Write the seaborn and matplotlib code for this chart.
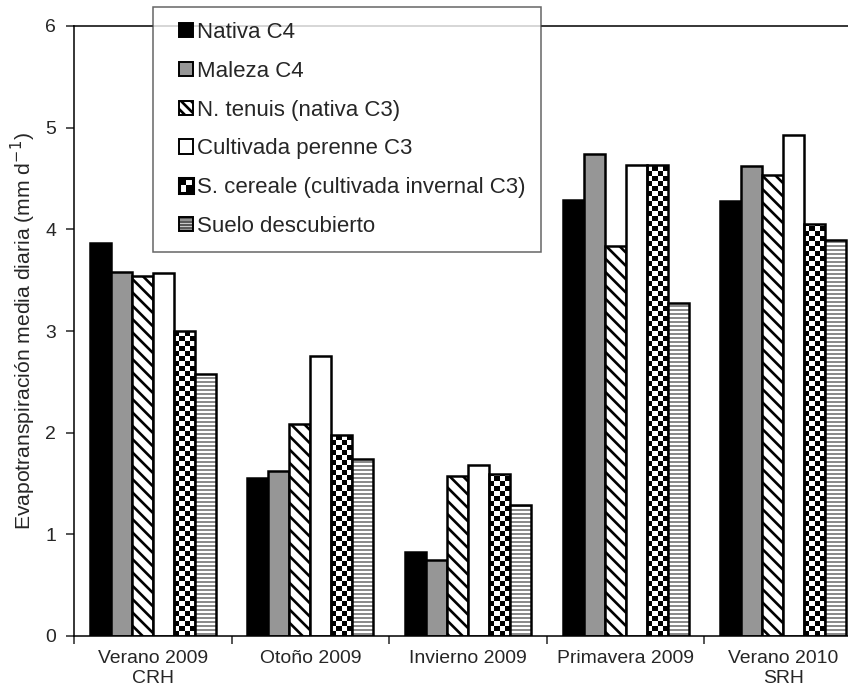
import numpy as np
import pandas as pd
import matplotlib
matplotlib.use("Agg")
import matplotlib.pyplot as plt
import seaborn as sns
from matplotlib.patches import Rectangle, Patch
from matplotlib.legend_handler import HandlerBase

seasons = ["Verano 2009\nCRH", "Otoño 2009", "Invierno 2009", "Primavera 2009", "Verano 2010\nSRH"]
types = ["Nativa C4", "Maleza C4", "N. tenuis (nativa C3)", "Cultivada perenne C3",
         "S. cereale (cultivada invernal C3)", "Suelo descubierto"]
nativa_c4 = [3.87, 1.55, 0.83, 4.29, 4.28]
maleza_c4 = [3.58, 1.62, 0.75, 4.74, 4.62]
n_tenuis = [3.54, 2.09, 1.57, 3.84, 4.53]
cult_perenne = [3.57, 2.75, 1.68, 4.63, 4.93]
s_cereale = [3.00, 1.98, 1.59, 4.63, 4.05]
suelo = [2.58, 1.74, 1.29, 3.28, 3.90]
yticks = [0, 1, 2, 3, 4, 5, 6]

series = [nativa_c4, maleza_c4, n_tenuis, cult_perenne, s_cereale, suelo]
df = pd.DataFrame({
    "season": [s for _ in types for s in seasons],
    "type": [t for t in types for _ in seasons],
    "value": [v for vals in series for v in vals],
})

DPI = 120
def P(v):  # size expressed as if at 100 dpi
    return v * 100 / DPI

sns.set_style("white")
plt.rcParams['font.family'] = ['Liberation Sans', 'DejaVu Sans']
plt.rcParams['hatch.linewidth'] = P(1.9)

fig = plt.figure(figsize=(848 / DPI, 700 / DPI), dpi=DPI)
ax = fig.add_axes([74/848, 1-636/700, 788/848, 610/700])

palette = ["black", "#969696", "white", "white", "white", "white"]
sns.barplot(data=df, x="season", y="value", hue="type", order=seasons, hue_order=types,
            palette=palette, edgecolor="black", linewidth=P(1.8), width=0.8, gap=0,
            legend=False, ax=ax, saturation=1)

HGRAY = (0.35, 0.35, 0.35, 1)
hatches = [None, None, "\\\\\\", None, None, "-----"]
for cont, h in zip(ax.containers, hatches):
    for p in cont:
        if h:
            p.set_hatch(h)
            if h.startswith("-"):
                p._hatch_color = HGRAY
                if hasattr(p, "set_hatch_linewidth"):
                    p.set_hatch_linewidth(P(1.0))

ax.set_xlim(-0.5, 4.5)
ax.set_ylim(0, 6)
ax.set_yticks(yticks)

# checkerboard fill for S. cereale
fig.canvas.draw()
px_per_x = ax.transData.transform((1, 0))[0] - ax.transData.transform((0, 0))[0]
px_per_y = ax.transData.transform((0, 1))[1] - ax.transData.transform((0, 0))[1]
cell = 5.0
for p in ax.containers[4]:
    x0, w, h = p.get_x(), p.get_width(), p.get_height()
    nc = max(1, int(round(w * px_per_x / cell)))
    nr = int(np.ceil(h * px_per_y / cell))
    arr = (np.add.outer(np.arange(nr), np.arange(nc)) % 2).astype(float)
    im = ax.imshow(arr, extent=(x0, x0 + w, 0, nr * cell / px_per_y), origin="lower",
                   cmap="gray", vmin=0, vmax=1, aspect="auto", interpolation="nearest",
                   zorder=p.get_zorder() - 0.05)
    im.set_clip_path(p)
    p.set_facecolor("none")
ax.set_xlim(-0.5, 4.5)
ax.set_ylim(0, 6)

for s in ax.spines.values():
    s.set_color("black")
    s.set_linewidth(P(1.1))

ax.tick_params(axis="y", which="major", direction="out", length=P(6), width=P(1.1),
               labelsize=P(14), pad=P(7), left=True)
ax.tick_params(axis="x", which="major", length=0, labelsize=P(14), pad=P(10))
for t in ax.get_xticklabels():
    t.set_linespacing(1.25)
ax.set_xticks(np.arange(-0.5, 5, 1), minor=True)
ax.tick_params(axis="x", which="minor", direction="out", length=P(6), width=P(1.1), bottom=True)
ax.set_xlabel("")
ax.set_ylabel("Evapotranspiración media diaria (mm d$^{-1}$)", fontsize=P(15.2))
ax.yaxis.set_label_coords(-36/788, 0.5)


class SquareHandler(HandlerBase):
    """Draws a square swatch at the right end of the handle box."""
    def __init__(self, kind="solid", **kw):
        super().__init__(**kw)
        self.kind = kind

    def create_artists(self, legend, orig_handle, xdescent, ydescent, width, height, fontsize, trans):
        s = height
        x0 = -xdescent + width - s
        y0 = -ydescent
        arts = []
        if self.kind == "checker":
            hs = s / 2
            for i in range(2):
                for j in range(2):
                    fc = "black" if (i + j) % 2 == 1 else "white"
                    arts.append(Rectangle((x0 + i * hs, y0 + j * hs), hs, hs,
                                          facecolor=fc, edgecolor="none", transform=trans))
            arts.append(Rectangle((x0, y0), s, s, facecolor="none",
                                  edgecolor="black", lw=P(2.2), transform=trans))
        else:
            r = Rectangle((x0, y0), s, s, facecolor=orig_handle.get_facecolor(),
                          edgecolor="black", lw=P(1.4), hatch=orig_handle.get_hatch(),
                          transform=trans)
            if getattr(orig_handle, "_hatch_color", None) is not None:
                r._hatch_color = orig_handle._hatch_color
            arts.append(r)
        return arts


handles = [
    Patch(facecolor="black", edgecolor="black"),
    Patch(facecolor="#969696", edgecolor="black"),
    Patch(facecolor="white", edgecolor="black", hatch="\\\\\\\\"),
    Patch(facecolor="white", edgecolor="black"),
    Patch(facecolor="white", edgecolor="black"),
    Patch(facecolor="white", edgecolor="black", hatch="------"),
]
handles[5]._hatch_color = HGRAY
hmap = {h: SquareHandler() for h in handles}
hmap[handles[4]] = SquareHandler(kind="checker")
leg = fig.legend(handles, types, loc="upper left", bbox_to_anchor=(153/848, 1-7/700),
                 frameon=True, fancybox=False, fontsize=P(16), handlelength=1.12, handleheight=0.62,
                 handletextpad=0.18, labelspacing=0.8, borderpad=0.68, borderaxespad=0,
                 handler_map=hmap)
leg.get_frame().set_edgecolor("#404040")
leg.get_frame().set_linewidth(P(1.1))

fig.savefig("out.png", dpi=DPI)
